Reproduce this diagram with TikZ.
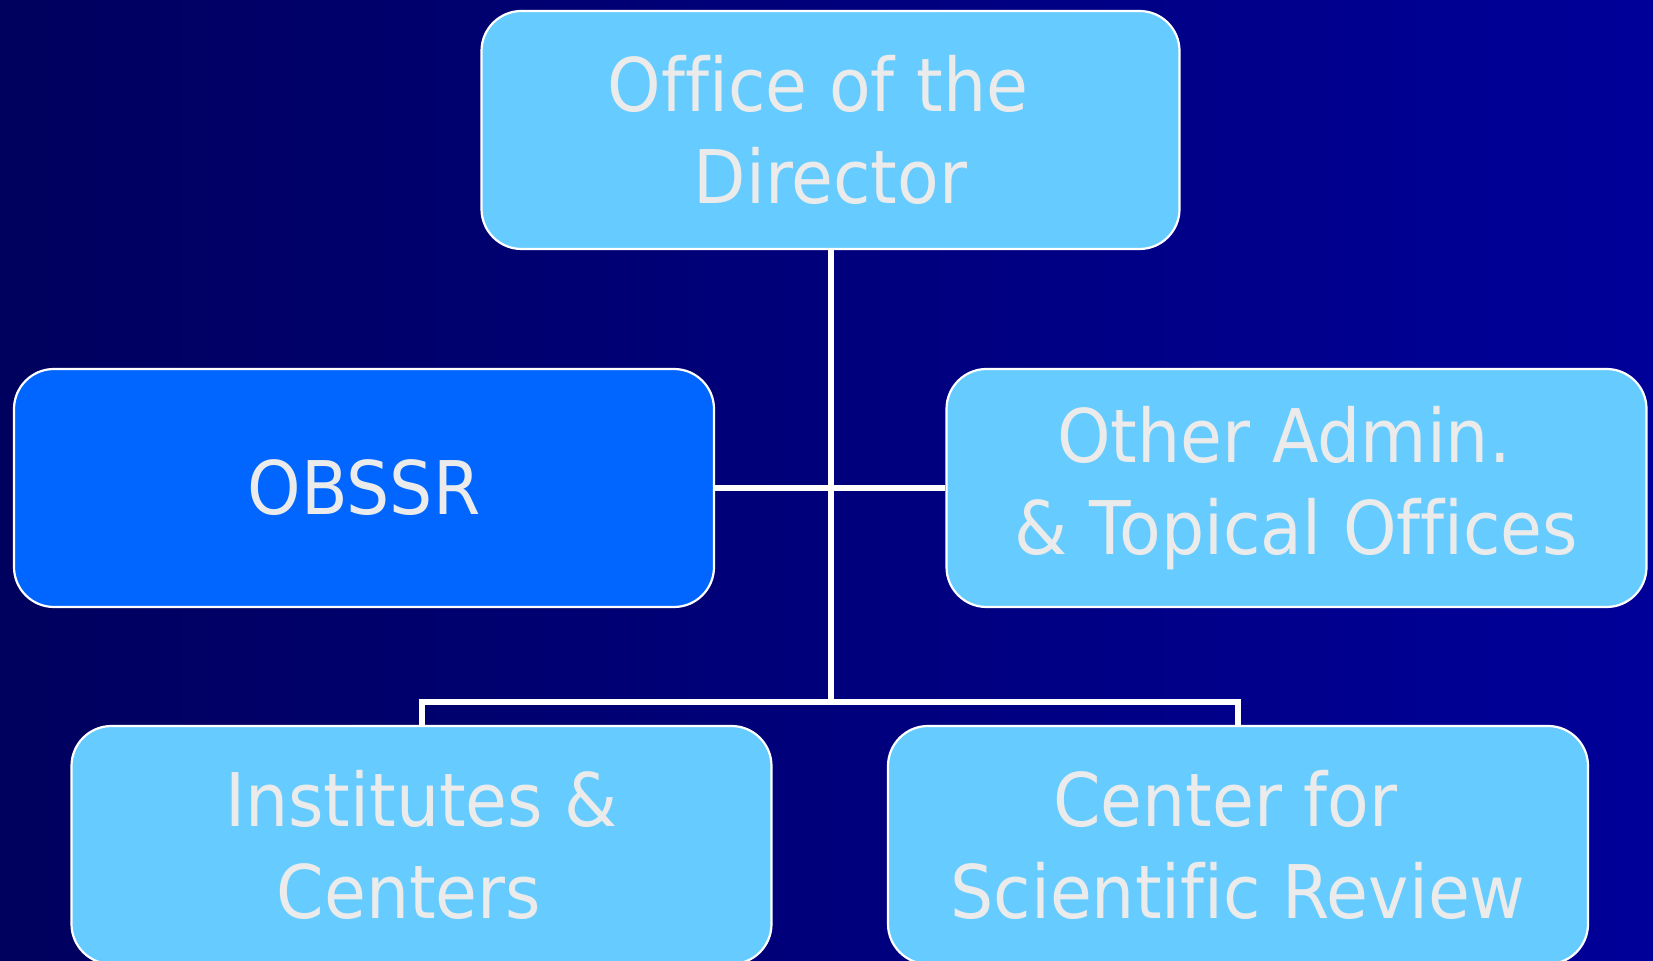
\documentclass[tikz,border=0pt]{standalone}
\usepackage{fontspec}
\setmainfont[FakeStretch=0.92, Ligatures=CommonOff]{DejaVu Sans}
\definecolor{bgL}{HTML}{00005E}
\definecolor{bgR}{HTML}{000099}
\definecolor{boxlight}{HTML}{66CCFF}
\definecolor{boxdark}{HTML}{0066FF}
\definecolor{txt}{HTML}{EBEBEB}
\newcommand{\trail}{\hspace*{0.34em}}
\begin{document}
\begin{tikzpicture}[x=0.5pt,y=-0.5pt]
\tikzset{
  orgbox/.style={draw=white, line width=1.1pt, fill=boxlight, rounded corners=20pt,
    minimum width=350pt, minimum height=119pt, inner sep=0pt, align=center,
    text=txt, font=\fontsize{37}{46}\selectfont},
  link/.style={draw=white, line width=3pt}
}
\useasboundingbox (0,0) rectangle (1653,961);
\clip (0,0) rectangle (1653,961);
\shade[left color=bgL, right color=bgR] (0,0) rectangle (1653,961);
\node[orgbox, minimum width=349pt] (dir) at (830.5,130) {Office of the\trail\\Director};
\node[orgbox, fill=boxdark] (obssr) at (364,488) {OBSSR};
\node[orgbox] (other) at (1296.5,488) {Other Admin.\trail\\\& Topical Offices};
\node[orgbox] (inst) at (421.5,845) {Institutes \&\\Centers\trail};
\node[orgbox] (csr) at (1238,845) {Center for\trail\\Scientific Review};
\coordinate (barM) at (830.5,702);
\coordinate (barL) at (421.5,702);
\coordinate (barR) at (1238,702);
\draw[link] (dir.south) -- (barM);
\draw[link] (obssr.east) -- (other.west);
\draw[link] (inst.north) -- (barL) -- (barR) -- (csr.north);
\end{tikzpicture}
\end{document}
